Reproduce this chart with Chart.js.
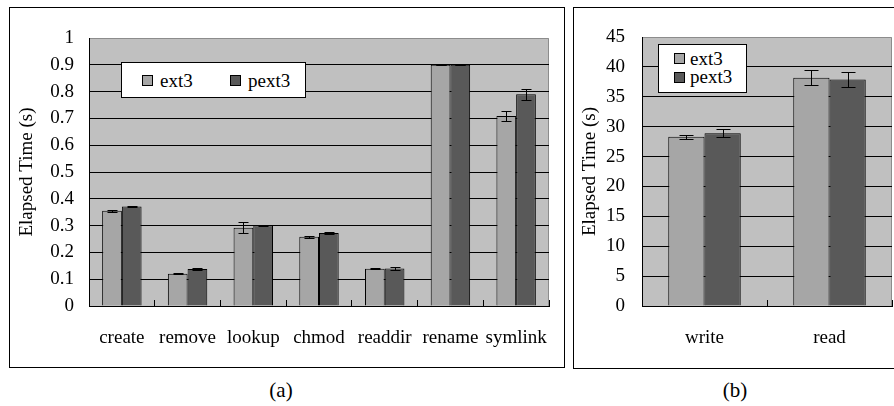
<!DOCTYPE html>
<html>
<head>
<meta charset="utf-8">
<script src="https://cdn.jsdelivr.net/npm/chart.js@4.4.1/dist/chart.umd.min.js"></script>
<style>
  body { margin:0; background:#fff; width:894px; height:406px; overflow:hidden; position:relative;
         font-family:'Liberation Serif', serif; color:#000; }
  .panel { position:absolute; border:1px solid #000; background:#fff; }
  .panel canvas { display:block; }
  .legend { position:absolute; box-sizing:border-box; border:1px solid #000; background:#fff; font-size:19px;
            font-family:'Liberation Serif', serif; }
  .legend .sw { position:absolute; box-sizing:border-box; width:11px; height:11px; border:1px solid #000; }
  .legend .tx { position:absolute; white-space:nowrap; line-height:19px; }
  .caption { position:absolute; font-size:21px; line-height:21px; transform:translateX(-50%);
             font-family:'Liberation Serif', serif; }
</style>
</head>
<body>

<div class="panel" style="left:9px; top:7px; width:554px; height:359px;">
  <canvas id="chartA" width="554" height="359"></canvas>
</div>
<div class="panel" style="left:573px; top:7px; width:320px; height:360px;">
  <canvas id="chartB" width="320" height="360"></canvas>
</div>

<div class="legend" id="legendA" style="left:121px; top:62px; width:185px; height:36px;"></div>
<div class="legend" id="legendB" style="left:658px; top:44px; width:89px; height:49px;"></div>

<div class="caption" style="left:281px; top:380px;">(a)</div>
<div class="caption" style="left:735px; top:380px;">(b)</div>

<script>
// Data
const seriesNames = ['ext3', 'pext3'];

const categoriesA = ['create', 'remove', 'lookup', 'chmod', 'readdir', 'rename', 'symlink'];
const ext3A = [0.355, 0.12, 0.292, 0.258, 0.139, 0.9, 0.709];
const pext3A = [0.371, 0.138, 0.301, 0.272, 0.14, 0.9, 0.79];
const ext3ErrA = [0.003, 0.002, 0.02, 0.005, 0.002, 0.001, 0.02];
const pext3ErrA = [0.003, 0.002, 0.001, 0.005, 0.004, 0.001, 0.02];
const yTicksA = [0, 0.1, 0.2, 0.3, 0.4, 0.5, 0.6, 0.7, 0.8, 0.9, 1];

const categoriesB = ['write', 'read'];
const ext3B = [28.3, 38.2];
const pext3B = [28.9, 37.9];
const ext3ErrB = [0.3, 1.3];
const pext3ErrB = [0.7, 1.3];
const yTicksB = [0, 5, 10, 15, 20, 25, 30, 35, 40, 45];

const seriesColors = ['#a6a6a6', '#595959'];

const FONT = "'Liberation Serif', serif";
Chart.defaults.font.family = FONT;
Chart.defaults.color = '#000';

// grey plot area with a thin outline on top/right
const plotBg = {
    id: 'plotBg',
    beforeDraw(chart) {
        const {ctx, chartArea: {left, top, right, bottom}} = chart;
        ctx.save();
        ctx.fillStyle = '#c0c0c0';
        ctx.fillRect(left, top, right - left, bottom - top);
        ctx.strokeStyle = '#8c8c8c';
        ctx.lineWidth = 1;
        ctx.beginPath();
        ctx.moveTo(left, top + 0.5);
        ctx.lineTo(right - 0.5, top + 0.5);
        ctx.lineTo(right - 0.5, bottom);
        ctx.stroke();
        ctx.restore();
    }
};

// error bars drawn from each dataset's errors array
const errorBars = {
    id: 'errorBars',
    afterDatasetsDraw(chart, args, opts) {
        const ctx = chart.ctx;
        const y = chart.scales.y;
        const cap = opts.cap || 5;
        ctx.save();
        ctx.strokeStyle = '#000';
        ctx.lineWidth = 1;
        chart.data.datasets.forEach((ds, i) => {
            const meta = chart.getDatasetMeta(i);
            meta.data.forEach((bar, j) => {
                const v = ds.data[j], e = ds.errors[j];
                const yt = Math.round(y.getPixelForValue(v + e)) + 0.5;
                const yb = Math.round(y.getPixelForValue(v - e)) + 0.5;
                const x = Math.round(bar.x) + 0.5;
                ctx.beginPath();
                ctx.moveTo(x, yt); ctx.lineTo(x, yb);
                ctx.moveTo(x - cap, yt); ctx.lineTo(x + cap, yt);
                ctx.moveTo(x - cap, yb); ctx.lineTo(x + cap, yb);
                ctx.stroke();
            });
        });
        ctx.restore();
    }
};

function makeChart(id, cats, values, errors, yTicks, lay) {
    const yMax = yTicks[yTicks.length - 1];
    return new Chart(document.getElementById(id), {
        type: 'bar',
        data: {
            labels: cats,
            datasets: values.map((vals, i) => ({
                label: seriesNames[i],
                data: vals,
                errors: errors[i],
                backgroundColor: seriesColors[i],
                borderColor: '#000',
                borderWidth: 1,
                categoryPercentage: lay.catPct,
                barPercentage: 1.0
            }))
        },
        options: {
            responsive: false,
            animation: false,
            devicePixelRatio: 1,
            layout: { padding: { top: lay.top, right: lay.right, left: 0, bottom: 0 } },
            plugins: {
                legend: { display: false },
                tooltip: { enabled: false },
                errorBars: { cap: lay.cap }
            },
            scales: {
                x: {
                    offset: true,
                    grid: { offset: true, drawOnChartArea: false, drawTicks: true, tickLength: -6, color: '#000' },
                    border: { display: true, color: '#000' },
                    ticks: { font: { size: 19, family: FONT }, color: '#000', padding: lay.xPad, maxRotation: 0, autoSkip: false },
                    afterFit(s) { s.height = lay.xH; s.paddingLeft = 0; s.paddingRight = 0; }
                },
                y: {
                    min: yTicks[0],
                    max: yMax,
                    afterBuildTicks(s) { s.ticks = yTicks.map(v => ({value: v})); },
                    grid: {
                        drawTicks: false,
                        color: c => (c.tick && c.tick.value === yMax) ? 'rgba(0,0,0,0)' : '#000'
                    },
                    border: { display: true, color: '#000' },
                    ticks: { padding: lay.yPad, font: { size: 19, family: FONT }, color: '#000', callback: v => String(v) },
                    title: { display: true, text: 'Elapsed Time (s)', font: { size: 19, family: FONT }, color: '#000',
                             padding: { top: lay.titlePad, bottom: 0 } },
                    afterFit(s) { s.width = lay.yW; s.paddingTop = 0; s.paddingBottom = 0; }
                }
            }
        },
        plugins: [plotBg, errorBars]
    });
}

// legends
function buildLegend(id, items) {
    const box = document.getElementById(id);
    items.forEach((it, i) => {
        const sw = document.createElement('div');
        sw.className = 'sw';
        sw.style.left = it.sx + 'px'; sw.style.top = it.sy + 'px';
        sw.style.background = seriesColors[i];
        const tx = document.createElement('div');
        tx.className = 'tx';
        tx.style.left = it.tx + 'px'; tx.style.top = it.ty + 'px';
        tx.textContent = seriesNames[i];
        box.appendChild(sw); box.appendChild(tx);
    });
}

function drawAll() {
    makeChart('chartA', categoriesA, [ext3A, pext3A], [ext3ErrA, pext3ErrA], yTicksA,
        { catPct: 0.6, top: 30, right: 15, xH: 61, yW: 79, xPad: 27, yPad: 15, titlePad: 6, cap: 5 });
    makeChart('chartB', categoriesB, [ext3B, pext3B], [ext3ErrB, pext3ErrB], yTicksB,
        { catPct: 0.58, top: 29, right: 2, xH: 62, yW: 68, xPad: 27, yPad: 17, titlePad: 5, cap: 7 });
    buildLegend('legendA', [
        { sx: 20, sy: 12, tx: 38, ty: 8 },
        { sx: 108, sy: 12, tx: 126, ty: 8 }
    ]);
    buildLegend('legendB', [
        { sx: 15, sy: 8, tx: 31, ty: 4 },
        { sx: 15, sy: 27, tx: 31, ty: 22 }
    ]);
}

// make sure the serif face is ready before the canvas text is drawn
if (document.fonts && document.fonts.load) {
    document.fonts.load("19px 'Liberation Serif'").then(drawAll, drawAll);
} else {
    drawAll();
}
</script>
</body>
</html>
